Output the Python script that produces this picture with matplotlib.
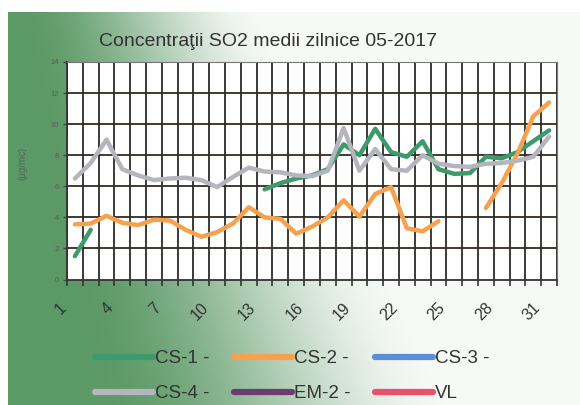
"""
Concentratii SO2 medii zilnice 05-2017
"""

import numpy as np
import matplotlib
matplotlib.use('Agg')
import matplotlib.pyplot as plt
import matplotlib.transforms as mtransforms

plt.rcParams['font.family'] = ['Liberation Sans', 'DejaVu Sans']

nan = np.nan
days = list(range(1, 32))
tick_days = list(range(1, 32, 3))

cs1 = [1.5, 3.2, nan, nan, nan, nan, nan, nan, nan, nan, nan, nan,
       5.8, 6.2, 6.5, 6.7, 7.1, 8.7, 8.0, 9.7, 8.2, 7.9, 8.9, 7.1,
       6.8, 6.85, 7.9, 7.8, 8.2, 8.9, 9.6]
cs2 = [3.55, 3.6, 4.1, 3.65, 3.5, 3.85, 3.8, 3.2, 2.75, 3.05, 3.6, 4.65,
       4.0, 3.9, 2.95, 3.4, 4.0, 5.1, 4.05, 5.5, 5.95, 3.3, 3.1, 3.75,
       nan, nan, 4.6, 6.2, 8.1, 10.5, 11.4]
cs3 = [nan] * 31
cs4 = [6.5, 7.5, 9.0, 7.1, 6.7, 6.4, 6.5, 6.55, 6.4, 5.95, 6.6, 7.2,
       6.95, 6.9, 6.7, 6.65, 7.0, 9.75, 7.0, 8.4, 7.1, 7.0, 8.0, 7.45,
       7.3, 7.25, 7.45, 7.5, 7.65, 7.9, 9.2]
em2 = [nan] * 31
vl = [nan] * 31

series = [cs1, cs2, cs3, cs4, em2, vl]
labels = ['CS-1 -', 'CS-2 -', 'CS-3 -', 'CS-4 -', 'EM-2 -', 'VL']
colors = ['#3d9b6b', '#f7a04e', '#5b8ed6', '#b5b5bd', '#6b3d6e', '#e8506e']

W, H = 580, 405
fig = plt.figure(figsize=(W / 100, H / 100), dpi=100)

# green -> white background panel
bg = fig.add_axes([0, 0, 1, 1])
bg.axis('off')
yy, xx = np.mgrid[0:H, 0:W]
xn, yn = xx / W, yy / H
a = 0.02 + 0.14 * yn
b = 0.45 + 0.35 * yn
f = np.clip((xn - a) / (b - a), 0, 1)
f = f * f * (3 - 2 * f)
green = np.array([0.36, 0.60, 0.40])
white = np.array([0.97, 0.98, 0.97])
img = green[None, None, :] * (1 - f[..., None]) + white[None, None, :] * f[..., None]
img[(yy < 12) | (xx < 8)] = 1.0
bg.imshow(img, aspect='auto', extent=[0, 1, 0, 1], transform=bg.transAxes)

ax = fig.add_axes([67 / W, 1 - 279.5 / H, (557 - 67) / W, (279.5 - 62) / H])
ax.set_facecolor('white')

lines = []
for y, lab, col in zip(series, labels, colors):
    ln, = ax.plot(days, y, color=col, lw=3.2, label=lab,
                  solid_joinstyle='round', solid_capstyle='round', zorder=3)
    lines.append(ln)

ax.set_xlim(0.5, 31.5)
ax.set_ylim(0, 14)
ax.set_yticks(range(0, 15, 2))
ax.set_xticks(tick_days)
ax.set_xticks(np.arange(0.5, 32, 1), minor=True)

ax.grid(False)
for g in np.arange(0.5, 32, 1):
    ax.axvline(g, color='#2b2b2b', lw=1.3, zorder=1)
for v in range(2, 15, 2):
    ax.axhline(v, color='#332a22', lw=1.3, zorder=1)

for sp in ['top', 'right']:
    ax.spines[sp].set_color('#777777')
    ax.spines[sp].set_linewidth(0.8)
for sp in ['left', 'bottom']:
    ax.spines[sp].set_color('#333333')
    ax.spines[sp].set_linewidth(1.3)

ax.tick_params(axis='x', which='major', length=0, pad=15, labelsize=11.5,
               labelcolor='#333333')
ax.tick_params(axis='x', which='minor', length=4, width=1.2, color='#333333')
ax.tick_params(axis='y', length=3, width=1, color='#444444', labelsize=5.5,
               labelcolor='#5a5a5a', pad=3)
shift = mtransforms.ScaledTranslation(-6 / 100, 0, fig.dpi_scale_trans)
for t in ax.get_xticklabels():
    t.set_rotation(45)
    t.set_ha('right')
    t.set_va('top')
    t.set_transform(t.get_transform() + shift)

fig.text(268 / W, 1 - 42 / H, 'Concentraţii SO2 medii zilnice 05-2017',
         ha='center', va='center', fontsize=14, color='#333333')
fig.text(22 / W, 1 - 163 / H, '(µg/mc)', rotation=90, ha='center',
         va='center', fontsize=7, color='#52695a')

# row-wise legend order (matplotlib fills columns first)
order = [0, 3, 1, 4, 2, 5]
leg = fig.legend([lines[i] for i in order], [labels[i] for i in order],
                 loc='upper left', bbox_to_anchor=(95 / W, 1 - 350 / H),
                 ncol=3, frameon=False, fontsize=13.5, handlelength=3.1,
                 handletextpad=0.1, columnspacing=1.3, labelspacing=0.95,
                 borderaxespad=0, borderpad=0)
for t in leg.get_texts():
    t.set_color('#333333')
for h in leg.get_lines():
    h.set_linewidth(4.5)

fig.savefig('out.png', dpi=100)
